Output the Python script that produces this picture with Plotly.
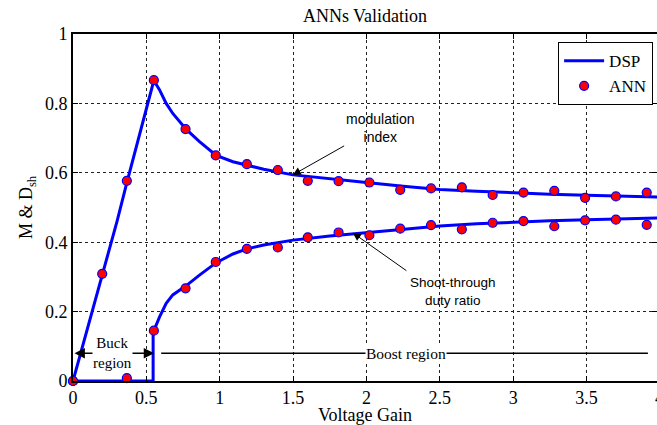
import plotly.graph_objects as go

# ---------------- data ----------------
# DSP curves
m_dsp_x = [0, 0.1, 0.2, 0.3, 0.367, 0.453, 0.5, 0.551, 0.59, 0.635, 0.68, 0.772, 0.862,
           0.976, 1.09, 1.18, 1.3, 1.5, 1.75, 2.0, 2.25, 2.5, 2.75, 3.0, 3.25, 3.5, 3.75, 4.0]
m_dsp_y = [0, 0.152, 0.308, 0.46, 0.572, 0.709, 0.785, 0.866, 0.839, 0.80, 0.771, 0.725, 0.69,
           0.65, 0.632, 0.622, 0.61, 0.594, 0.582, 0.572, 0.561, 0.552, 0.547, 0.542, 0.538, 0.535, 0.532, 0.530]

d_dsp_x = [0, 0.3, 0.546, 0.546, 0.551, 0.59, 0.635, 0.68, 0.772, 0.862, 0.976, 1.09, 1.18,
           1.3, 1.5, 1.75, 2.0, 2.25, 2.5, 2.75, 3.0, 3.25, 3.5, 3.75, 4.0]
d_dsp_y = [0, 0, 0, 0.135, 0.145, 0.185, 0.224, 0.248, 0.275, 0.305, 0.341, 0.366, 0.38,
           0.392, 0.406, 0.418, 0.428, 0.439, 0.447, 0.453, 0.458, 0.462, 0.465, 0.468, 0.470]

# ANN points
m_ann_x = [0, 0.199, 0.367, 0.551, 0.767, 0.973, 1.185, 1.396, 1.60, 1.81, 2.02, 2.23, 2.44,
           2.65, 2.86, 3.07, 3.28, 3.49, 3.70, 3.91]
m_ann_y = [0, 0.309, 0.577, 0.867, 0.726, 0.650, 0.625, 0.608, 0.577, 0.576, 0.572, 0.551, 0.555,
           0.558, 0.536, 0.543, 0.548, 0.528, 0.532, 0.543]

d_ann_x = [0, 0.367, 0.551, 0.767, 0.973, 1.185, 1.396, 1.60, 1.81, 2.02, 2.23, 2.44,
           2.65, 2.86, 3.07, 3.28, 3.49, 3.70, 3.91]
d_ann_y = [0, 0.008, 0.145, 0.267, 0.343, 0.381, 0.385, 0.414, 0.428, 0.420, 0.439, 0.449,
           0.437, 0.456, 0.461, 0.446, 0.463, 0.465, 0.450]

x_ticks = [0, 0.5, 1, 1.5, 2, 2.5, 3, 3.5]
x_tick_labels = ["0", "0.5", "1", "1.5", "2", "2.5", "3", "3.5"]
x_last_tick_label = "4"
y_ticks = [0, 0.2, 0.4, 0.6, 0.8, 1]
y_tick_labels = ["0", "0.2", "0.4", "0.6", "0.8", "1"]

# annotation anchors (data coords)
mod_head = (1.498, 0.594)
mod_tail = (1.858, 0.680)
mod_text = (2.096, 0.729)
st_head = (1.907, 0.427)
st_tail = (2.282, 0.315)
st_text = (2.592, 0.259)
region_y = 0.080
buck_span = (0.0, 0.553)
buck_text_x = 0.271
boost_span = (0.601, 3.918)
boost_text_x = 2.267

X_MAX = 3.98
SERIF = "Liberation Serif, Times New Roman, serif"
SANS = "Liberation Sans, Arial, sans-serif"
BLUE = "#0000FF"

fig = go.Figure()

fig.add_trace(go.Scatter(x=m_dsp_x, y=m_dsp_y, mode="lines", name="DSP",
                         line=dict(color=BLUE, width=3), legendgroup="dsp",
                         showlegend=True, cliponaxis=False))
fig.add_trace(go.Scatter(x=d_dsp_x, y=d_dsp_y, mode="lines", name="DSP",
                         line=dict(color=BLUE, width=3), legendgroup="dsp",
                         showlegend=False, cliponaxis=False))
fig.add_trace(go.Scatter(x=m_ann_x, y=m_ann_y, mode="markers", name="ANN",
                         marker=dict(color="#FF0000", size=9, line=dict(color=BLUE, width=1.2)),
                         legendgroup="ann", showlegend=True, cliponaxis=False))
fig.add_trace(go.Scatter(x=d_ann_x, y=d_ann_y, mode="markers", name="ANN",
                         marker=dict(color="#FF0000", size=9, line=dict(color=BLUE, width=1.2)),
                         legendgroup="ann", showlegend=False, cliponaxis=False))

annotations = [
    # modulation index arrow + text
    dict(x=mod_head[0], y=mod_head[1], ax=mod_tail[0], ay=mod_tail[1],
         xref="x", yref="y", axref="x", ayref="y", text="", showarrow=True,
         arrowhead=2, arrowsize=1.6, arrowwidth=1, arrowcolor="black"),
    dict(x=mod_text[0], y=mod_text[1], xref="x", yref="y", text="modulation<br>index",
         showarrow=False, font=dict(family=SANS, size=14, color="black"), align="center"),
    # shoot-through arrow + text
    dict(x=st_head[0], y=st_head[1], ax=st_tail[0], ay=st_tail[1],
         xref="x", yref="y", axref="x", ayref="y", text="", showarrow=True,
         arrowhead=2, arrowsize=1.6, arrowwidth=1, arrowcolor="black"),
    dict(x=st_text[0], y=st_text[1], xref="x", yref="y", text="Shoot-through<br>duty ratio",
         showarrow=False, font=dict(family=SANS, size=13.5, color="black"), align="center"),
    # buck region double arrow
    dict(x=buck_span[1], y=region_y, ax=buck_span[0], ay=region_y,
         xref="x", yref="y", axref="x", ayref="y", text="", showarrow=True,
         arrowhead=2, arrowside="end+start", arrowsize=1.3, arrowwidth=1.6, arrowcolor="black"),
    dict(x=buck_text_x, y=region_y, xref="x", yref="y", text="Buck<br>region",
         showarrow=False, bgcolor="white", borderpad=0,
         font=dict(family=SERIF, size=15, color="black"), align="center"),
    # boost region label
    dict(x=boost_text_x, y=region_y, xref="x", yref="y", text="Boost region",
         showarrow=False, bgcolor="white", borderpad=0,
         font=dict(family=SERIF, size=15.5, color="black")),
    # partially visible last tick label (x = 4 lies just past the window edge)
    dict(x=4 / X_MAX, y=0, xref="paper", yref="paper", yshift=-5, text=x_last_tick_label,
         showarrow=False, xanchor="center", yanchor="top",
         font=dict(family=SERIF, size=18, color="black")),
]

shapes = [
    dict(type="line", xref="x", yref="y", x0=boost_span[0], x1=boost_span[1],
         y0=region_y, y1=region_y, line=dict(color="black", width=1.6), layer="above"),
]

fig.update_layout(
    width=657, height=425,
    margin=dict(l=73, r=0, t=34, b=44, pad=0, autoexpand=False),
    paper_bgcolor="white", plot_bgcolor="white",
    title=dict(text="ANNs Validation", x=0.5, xref="paper", y=1 - 15.7 / 425,
               yref="container", xanchor="center", yanchor="middle",
               font=dict(family=SERIF, size=18, color="black")),
    font=dict(family=SERIF, size=18, color="black"),
    showlegend=True,
    legend=dict(x=0.993, y=0.977, xanchor="right", yanchor="top",
                bgcolor="white", bordercolor="black", borderwidth=1.2,
                font=dict(family=SERIF, size=17, color="black"),
                itemwidth=40, tracegroupgap=0),
    annotations=annotations,
    shapes=shapes,
)

fig.update_xaxes(range=[0, X_MAX], tickvals=x_ticks, ticktext=x_tick_labels,
                 automargin=False,
                 showgrid=True, gridcolor="#222222", griddash="dot", gridwidth=1,
                 zeroline=False, showline=True, linecolor="black", linewidth=1.6,
                 mirror="ticks", ticks="inside", ticklen=5, tickcolor="black",
                 tickfont=dict(family=SERIF, size=18, color="black"),
                 title=dict(text="Voltage Gain", standoff=10,
                            font=dict(family=SERIF, size=18, color="black")))
fig.update_yaxes(range=[0, 1], tickvals=y_ticks, ticktext=y_tick_labels,
                 automargin=False,
                 showgrid=True, gridcolor="#222222", griddash="dot", gridwidth=1,
                 zeroline=False, showline=True, linecolor="black", linewidth=1.6,
                 mirror="ticks", ticks="inside", ticklen=5, tickcolor="black",
                 tickfont=dict(family=SERIF, size=18, color="black"),
                 title=dict(text="M &amp; D<sub>sh</sub>", standoff=8,
                            font=dict(family=SERIF, size=18, color="black")))

fig.write_html("out.html")
